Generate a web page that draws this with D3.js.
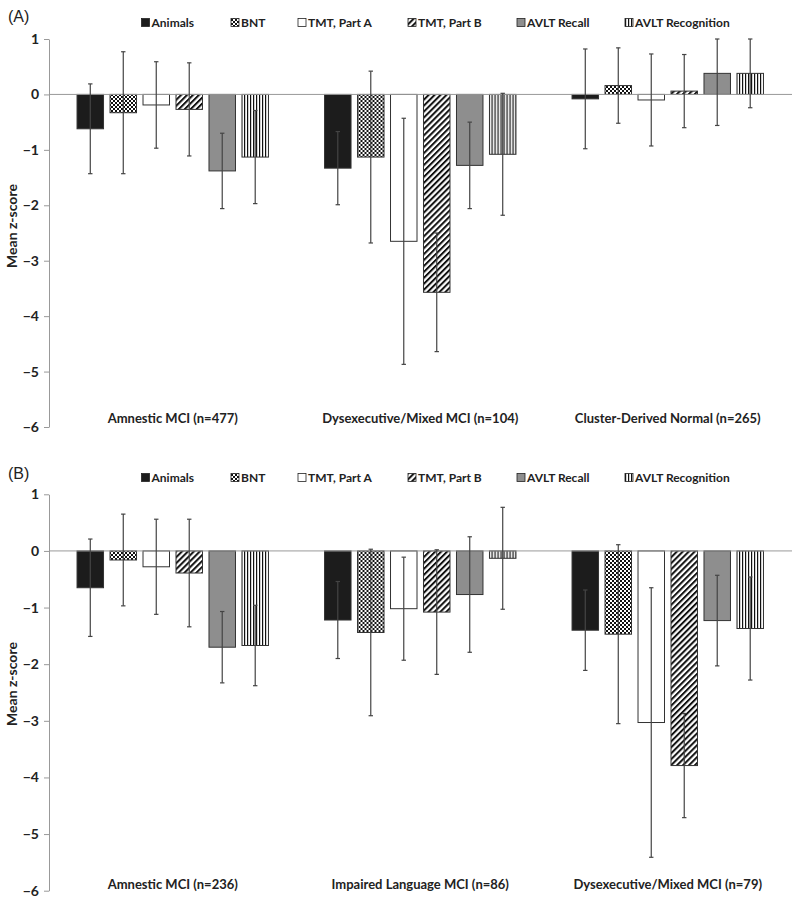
<!DOCTYPE html>
<html><head><meta charset="utf-8">
<script src="https://cdn.jsdelivr.net/npm/d3@7"></script>
<style>body{margin:0;background:#fff}svg{display:block}</style>
</head><body>
<svg id="chart" width="800" height="903"></svg>
<script>
const seriesNames = ["Animals","BNT","TMT, Part A","TMT, Part B","AVLT Recall","AVLT Recognition"];
const yTicks = [1,0,-1,-2,-3,-4,-5,-6];

const groupsA = ["Amnestic MCI (n=477)","Dysexecutive/Mixed MCI (n=104)","Cluster-Derived Normal (n=265)"];
const meansA = [
  [-0.62,-0.33,-0.19,-0.27,-1.38,-1.13],
  [-1.33,-1.13,-2.65,-3.57,-1.28,-1.08],
  [-0.08, 0.16,-0.10, 0.06, 0.38, 0.38]
];
const sdA = [
  [0.81,1.10,0.78,0.84,0.68,0.84],
  [0.66,1.55,2.22,1.07,0.78,1.10],
  [0.90,0.68,0.83,0.66,0.94,0.62]
];

const groupsB = ["Amnestic MCI (n=236)","Impaired Language MCI (n=86)","Dysexecutive/Mixed MCI (n=79)"];
const meansB = [
  [-0.65,-0.16,-0.28,-0.39,-1.70,-1.67],
  [-1.22,-1.44,-1.02,-1.08,-0.77,-0.13],
  [-1.40,-1.47,-3.03,-3.79,-1.23,-1.37]
];
const sdB = [
  [0.86,0.81,0.84,0.95,0.63,0.71],
  [0.68,1.47,0.91,1.10,1.02,0.90],
  [0.71,1.58,2.38,0.92,0.80,0.91]
];

const svg = d3.select("#chart");
const FONT = "Lato, 'Open Sans', sans-serif";
const defs = svg.append("defs");
const chk = defs.append("pattern").attr("id","chk").attr("patternUnits","userSpaceOnUse").attr("width",4).attr("height",4);
chk.append("rect").attr("width",4).attr("height",4).attr("fill","#fff");
chk.append("rect").attr("width",2).attr("height",2).attr("fill","#111");
chk.append("rect").attr("x",2).attr("y",2).attr("width",2).attr("height",2).attr("fill","#111");
const dg = defs.append("pattern").attr("id","diag").attr("patternUnits","userSpaceOnUse").attr("width",4.2).attr("height",4.2).attr("patternTransform","rotate(45)");
dg.append("rect").attr("width",4.2).attr("height",4.2).attr("fill","#fff");
dg.append("rect").attr("width",2).attr("height",4.2).attr("fill","#111");
const vs = defs.append("pattern").attr("id","vert").attr("patternUnits","userSpaceOnUse").attr("width",3).attr("height",3);
vs.append("rect").attr("width",3).attr("height",3).attr("fill","#fff");
vs.append("rect").attr("width",1.2).attr("height",3).attr("fill","#111");

const fills = ["#1c1c1c","url(#chk)","#ffffff","url(#diag)","#8e8e8e","url(#vert)"];

function panel(label, groups, means, sds, yTop, yBot, labelY, legendY, catY, titleY){
  const x0 = d3.scaleBand().domain(groups).range([49, 791.5]);
  const x1 = d3.scaleBand().domain(seriesNames).range([0, x0.bandwidth()]).paddingInner(0.197).paddingOuter(0.85);
  const y = d3.scaleLinear().domain([-6,1]).range([yBot, yTop]);
  const g = svg.append("g");

  g.append("text").attr("x",8).attr("y",labelY).attr("font-family","Arial, 'Liberation Sans', sans-serif")
    .attr("font-size",16).attr("fill","#222").text(label);

  const legX = [141.5, 231, 298, 408, 517, 625];
  seriesNames.forEach((s,i)=>{
    const lg = g.append("g").attr("transform",`translate(${legX[i]},${legendY})`);
    lg.append("rect").attr("x",0).attr("y",-4.5).attr("width",8).attr("height",8)
      .attr("fill",fills[i]).attr("stroke","#222").attr("stroke-width",0.8);
    lg.append("text").attr("x",10).attr("y",0).attr("dy","0.35em").attr("font-family",FONT)
      .attr("font-weight","bold").attr("font-size",12).attr("fill","#222").text(s);
  });

  const ax = g.append("g").attr("transform","translate(49,0)")
    .call(d3.axisLeft(y).tickValues(yTicks).tickFormat(d3.format("d")).tickSize(5).tickSizeOuter(0));
  ax.select(".domain").attr("stroke","#999");
  ax.selectAll(".tick line").attr("stroke","#999");
  ax.selectAll(".tick text").attr("font-family",FONT).attr("font-weight","bold").attr("font-size",14)
    .attr("fill","#222").attr("x",-10);

  g.append("text").attr("transform",`translate(17,${titleY}) rotate(-90)`)
    .attr("text-anchor","middle").attr("font-family",FONT).attr("font-weight","bold")
    .attr("font-size",14).attr("fill","#222").text("Mean z-score");

  groups.forEach((grp,gi)=>{
    const gg = g.append("g").attr("transform",`translate(${x0(grp)},0)`);
    seriesNames.forEach((s,si)=>{
      const v = means[gi][si];
      gg.append("rect").attr("x",x1(s)).attr("width",x1.bandwidth())
        .attr("y",y(Math.max(0,v))).attr("height",Math.abs(y(v)-y(0)))
        .attr("fill",fills[si]).attr("stroke","#333").attr("stroke-width",1);
    });
  });

  g.append("line").attr("x1",49).attr("x2",792).attr("y1",y(0)).attr("y2",y(0))
    .attr("stroke","#999").attr("stroke-width",1);

  groups.forEach((grp,gi)=>{
    const gg = g.append("g").attr("transform",`translate(${x0(grp)},0)`);
    seriesNames.forEach((s,si)=>{
      const v = means[gi][si], sd = sds[gi][si];
      const cx = x1(s) + x1.bandwidth()/2;
      const hi = Math.min(1, v+sd), lo = Math.max(-6, v-sd);
      gg.append("line").attr("x1",cx).attr("x2",cx).attr("y1",y(hi)).attr("y2",y(lo))
        .attr("stroke","#444").attr("stroke-width",1.2);
      [hi,lo].forEach(e=>{
        gg.append("line").attr("x1",cx-2.2).attr("x2",cx+2.2).attr("y1",y(e)).attr("y2",y(e))
          .attr("stroke","#444").attr("stroke-width",1.2);
      });
    });
    g.append("text").attr("x",x0(grp)+x0.bandwidth()/2).attr("y",catY).attr("dy","0.35em")
      .attr("text-anchor","middle").attr("font-family",FONT).attr("font-weight","bold")
      .attr("font-size",13).attr("fill","#222").text(grp);
  });
}

panel("(A)", groupsA, meansA, sdA, 39, 427, 22, 23, 418, 226);
panel("(B)", groupsB, meansB, sdB, 494.3, 890.7, 479, 478, 884, 684);
</script>
</body></html>
